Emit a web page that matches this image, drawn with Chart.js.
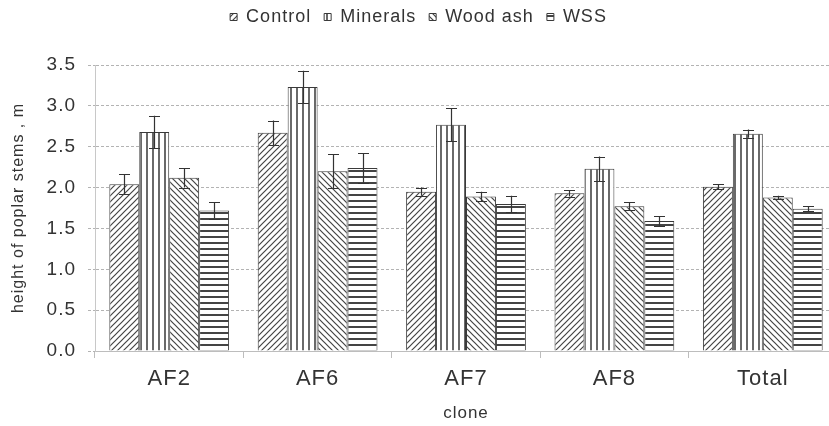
<!DOCTYPE html>
<html>
<head>
<meta charset="utf-8">
<script src="https://cdn.jsdelivr.net/npm/chart.js@4.4.1/dist/chart.umd.min.js"></script>
<style>
  html, body { margin: 0; padding: 0; background: #fff; overflow: hidden; }
  #wrap { width: 856px; height: 426px; }
</style>
</head>
<body>
<div id="wrap"><canvas id="heightChart" width="856" height="426"></canvas></div>
<script>
const clones = ['AF2', 'AF6', 'AF7', 'AF8', 'Total'];

const control = [2.04, 2.67, 1.95, 1.93, 2.01];
const minerals = [2.68, 3.23, 2.77, 2.23, 2.66];
const woodAsh = [2.12, 2.20, 1.89, 1.77, 1.88];
const wss = [1.72, 2.24, 1.80, 1.59, 1.74];

const controlErr = [0.12, 0.15, 0.05, 0.04, 0.03];
const mineralsErr = [0.20, 0.20, 0.20, 0.15, 0.05];
const woodAshErr = [0.12, 0.21, 0.06, 0.05, 0.02];
const wssErr = [0.10, 0.18, 0.10, 0.06, 0.03];

const yTicks = [0, 0.5, 1, 1.5, 2, 2.5, 3, 3.5];

const textColor = '#333333';
const lineColor = '#444444';
const fontFamily = '"Liberation Sans", Arial, sans-serif';

// hatch fills, drawn once on small tiles
function hatch(kind) {
    const size = 6;
    const c = document.createElement('canvas');
    c.width = size;
    c.height = size;
    const g = c.getContext('2d');
    g.fillStyle = '#ffffff';
    g.fillRect(0, 0, size, size);
    g.strokeStyle = lineColor;
    g.lineWidth = 1.2;
    g.beginPath();
    if (kind === 'up') {
        g.moveTo(-1, size + 1); g.lineTo(size + 1, -1);
        g.moveTo(-1, 1); g.lineTo(1, -1);
        g.moveTo(size - 1, size + 1); g.lineTo(size + 1, size - 1);
    } else if (kind === 'down') {
        g.moveTo(-1, -1); g.lineTo(size + 1, size + 1);
        g.moveTo(size - 1, -1); g.lineTo(size + 1, 1);
        g.moveTo(-1, size - 1); g.lineTo(1, size + 1);
    } else if (kind === 'vert') {
        g.lineWidth = 1.6;
        g.moveTo(3, 0); g.lineTo(3, size);
    } else {
        g.lineWidth = 2;
        g.moveTo(0, 3); g.lineTo(size, 3);
    }
    g.stroke();
    return g.createPattern(c, 'repeat');
}

const ctx = document.getElementById('heightChart').getContext('2d');

// the source image is a little stretched sideways, so widen the text a bit
const wideText = {
    id: 'wideText',
    beforeUpdate(chart) { chart.ctx.letterSpacing = '1px'; }
};

// leave room under the legend and keep its row near the top, like the original
const legendRoom = {
    id: 'legendRoom',
    afterInit(chart) {
        const legend = chart.legend;
        const fit = legend.fit;
        const draw = legend.draw;
        legend.fit = function () {
            fit.call(this);
            this.height = 65;
        };
        legend.draw = function () {
            this.ctx.save();
            this.ctx.translate(0, -5);
            draw.call(this);
            this.ctx.restore();
        };
    }
};

const errorBars = {
    id: 'errorBars',
    afterDatasetsDraw(chart) {
        const c = chart.ctx;
        const y = chart.scales.y;
        c.save();
        c.strokeStyle = '#333333';
        c.lineWidth = 1.2;
        chart.data.datasets.forEach((ds, di) => {
            const meta = chart.getDatasetMeta(di);
            meta.data.forEach((bar, i) => {
                const v = ds.data[i];
                const e = ds.errors[i];
                const top = y.getPixelForValue(v + e);
                const bot = y.getPixelForValue(v - e);
                const x = Math.round(bar.x) + 0.5;
                c.beginPath();
                c.moveTo(x, top); c.lineTo(x, bot);
                c.moveTo(x - 5.5, Math.round(top) + 0.5); c.lineTo(x + 5.5, Math.round(top) + 0.5);
                c.moveTo(x - 5.5, Math.round(bot) + 0.5); c.lineTo(x + 5.5, Math.round(bot) + 0.5);
                c.stroke();
            });
        });
        c.restore();
    }
};

function series(label, data, errors, kind) {
    return {
        label: label,
        data: data,
        errors: errors,
        backgroundColor: hatch(kind),
        borderColor: '#3a3a3a',
        borderWidth: 1,
        categoryPercentage: 0.807,
        barPercentage: 1.0
    };
}

const heightChart = new Chart(ctx, {
    type: 'bar',
    data: {
        labels: clones,
        datasets: [
            series('Control', control, controlErr, 'up'),
            series('Minerals', minerals, mineralsErr, 'vert'),
            series('Wood ash', woodAsh, woodAshErr, 'down'),
            series('WSS', wss, wssErr, 'horiz')
        ]
    },
    plugins: [wideText, legendRoom, errorBars],
    options: {
        responsive: false,
        animation: false,
        devicePixelRatio: 1,
        layout: { padding: { left: 0, right: 19, top: 0, bottom: 0 } },
        plugins: {
            tooltip: { enabled: false },
            legend: {
                position: 'top',
                labels: {
                    color: textColor,
                    font: { family: fontFamily, size: 18 },
                    boxWidth: 7,
                    boxHeight: 7,
                    padding: 13
                }
            }
        },
        scales: {
            x: {
                grid: {
                    offset: true,
                    drawOnChartArea: false,
                    color: '#bdbdbd',
                    tickLength: 7
                },
                border: { color: '#bdbdbd', width: 1 },
                ticks: {
                    color: textColor,
                    padding: 8,
                    font: { family: fontFamily, size: 22 }
                },
                title: {
                    display: true,
                    text: 'clone',
                    color: textColor,
                    padding: { top: 0, bottom: 2 },
                    font: { family: fontFamily, size: 17 }
                },
                afterFit(scale) { scale.height = 75; }
            },
            y: {
                min: 0,
                max: 3.5,
                afterBuildTicks(scale) { scale.ticks = yTicks.map(v => ({ value: v })); },
                grid: {
                    color: '#b3b3b3',
                    tickLength: 7,
                    tickBorderDash: [3, 2]
                },
                border: { color: '#c8c8c8', width: 1, dash: [3, 2] },
                ticks: {
                    color: textColor,
                    padding: 12,
                    callback: v => Number(v).toFixed(1),
                    font: { family: fontFamily, size: 19 }
                },
                title: {
                    display: true,
                    text: 'height of poplar stems , m',
                    color: textColor,
                    padding: { top: 9, bottom: 0 },
                    font: { family: fontFamily, size: 16 }
                },
                afterFit(scale) { scale.width = 95; }
            }
        }
    }
});
</script>
</body>
</html>
